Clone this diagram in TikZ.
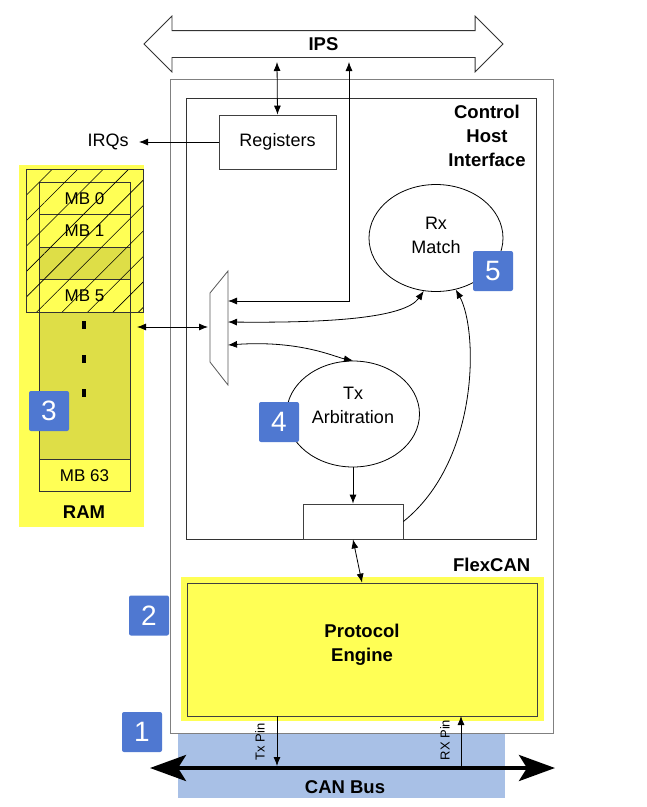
\documentclass[tikz,border=0pt]{standalone}
\usepackage{fontspec}
\setmainfont{Liberation Sans}
\usetikzlibrary{arrows.meta,positioning,shapes.geometric,shapes.arrows,patterns.meta}
\definecolor{hl}{HTML}{FFFF55}
\definecolor{olivecell}{HTML}{DEDE47}
\definecolor{badgeblue}{HTML}{4F78D1}
\definecolor{busblue}{HTML}{A8C0E6}
\begin{document}
\begin{tikzpicture}[x=1pt,y=-1pt,line width=0.8pt,
  font=\fontsize{18}{24}\selectfont,
  arr/.style={-{Latex[length=9pt,width=7pt]}},
  dbl/.style={{Latex[length=9pt,width=7pt]}-{Latex[length=9pt,width=7pt]}},
  box/.style={draw=black!75,inner sep=0pt},
  lbl/.style={font=\fontsize{18.5}{24}\selectfont\bfseries,align=center},
  mb/.style={draw=black!80,fill=hl,minimum width=91pt,minimum height=32.5pt,inner sep=0pt,outer sep=0pt,font=\fontsize{17}{17}\selectfont},
  badge/.style={fill=badgeblue,text=white,rounded corners=2pt,minimum size=40pt,inner sep=0pt,font=\fontsize{28}{28}\selectfont}]
\useasboundingbox (0,0) rectangle (647,807);
\fill[white] (0,0) rectangle (647,807);

\fill[hl] (19,165) rectangle (144,527);
\node[mb] (mb0) at (84.5,198.25) {MB 0};
\node[mb,below=0pt of mb0] (mb1) {MB 1};
\node[mb,fill=olivecell,below=0pt of mb1] (mbx) {};
\node[mb,below=0pt of mbx] (mb5) {MB 5};
\node[mb,fill=olivecell,minimum height=147pt,below=0pt of mb5] (mbdots) {};
\node[mb,below=0pt of mbdots] (mb63) {MB 63};
\draw[black!80,pattern={Lines[angle=45,distance=18pt,line width=0.6pt]}] (26,169) rectangle (143,312);
\foreach \y in {325,359,393}
  \fill (82,\y-4) rectangle (86,\y+4);
\node[lbl] (ram) at (84,512) {RAM};
\coordinate (ramport) at (137,327);

\fill[busblue] (178,733) rectangle (505,798);
\draw[gray] (170,79) rectangle (553,733);
\draw[black!80] (186,98) rectangle (536,539);

\node[draw=black!80,double arrow,double arrow head extend=14.5pt,minimum height=359pt,
  text height=13pt,text depth=0pt,inner ysep=6.5pt,inner xsep=0pt,lbl] (ips) at (323.5,44) {IPS};
\coordinate (ipsA) at (277,62);
\coordinate (ipsB) at (349,62);

\node[box,minimum width=117pt,minimum height=54pt] (regs) at (277.5,142) {Registers};
\node[anchor=east,inner sep=0pt] (irq) at (129,142) {IRQs};
\node[lbl] (chi) at (487,136) {Control\\Host\\Interface};

\draw[gray!70!black] (210,293) -- (228,271) -- (228,385) -- (210,362) -- cycle;
\coordinate (m0) at (208,327);
\coordinate (m1) at (228,301);
\coordinate (m2) at (228,322);
\coordinate (m3) at (228,345);

\node[draw,ellipse,minimum width=134pt,minimum height=107pt,
  label={[align=center,yshift=3pt]center:Rx\\Match}] (rx) at (436,238) {};
\node[draw,ellipse,minimum width=133pt,minimum height=106pt,
  label={[align=center,yshift=9pt]center:Tx\\Arbitration}] (tx) at (353,414) {};
\node[box,minimum width=100pt,minimum height=35pt] (buf) at (353,521.5) {};

\fill[hl] (181,577) rectangle (544,721);
\node[box,fill=hl,minimum width=350pt,minimum height=133pt,
  label={[lbl,yshift=5pt]center:Protocol\\Engine}] (pe) at (362,649.5) {};
\node[lbl,anchor=east] (flex) at (534,565) {FlexCAN};

\draw[dbl] (regs.north) -- (ipsA);
\draw[dbl] (m1) -| (ipsB);
\draw[arr,shorten >=10pt] (regs.west) -- (irq.east);
\draw[dbl] (ramport) -- (m0);
\draw[dbl] (m2) .. controls (330,323) and (405,318) .. (rx.-103);
\draw[dbl] (m3) .. controls (300,340) and (335,357) .. (tx.north);
\draw[arr] (buf.east) .. controls (480,460) and (478,330) .. (rx.-69);
\draw[arr] (tx.south) -- (buf.north);
\draw[dbl] (buf.south) -- (pe.north);

\coordinate (busL) at (150,768);
\coordinate (busR) at (555,768);
\draw[line width=4pt,{Stealth[length=36pt,width=26pt,inset=8pt]}-{Stealth[length=36pt,width=26pt,inset=8pt]}] (busL) -- (busR);
\node[lbl] (can) at (345,787) {CAN Bus};
\coordinate (txp) at (277,716);
\coordinate (rxp) at (461,716);
\draw[arr,shorten >=2pt] (txp) -- (txp |- busL);
\draw[arr] (rxp |- busL) -- (rxp);
\node[rotate=90,font=\fontsize{13}{13}\selectfont] (txl) at (260,742) {Tx Pin};
\node[rotate=90,font=\fontsize{13}{13}\selectfont] (rxl) at (445,740) {RX Pin};

\node[badge] (b1) at (142,732) {1};
\node[badge] (b2) at (149,615.5) {2};
\node[badge] (b3) at (49,411) {3};
\node[badge] (b4) at (279,422) {4};
\node[badge] (b5) at (493,271) {5};
\end{tikzpicture}
\end{document}
